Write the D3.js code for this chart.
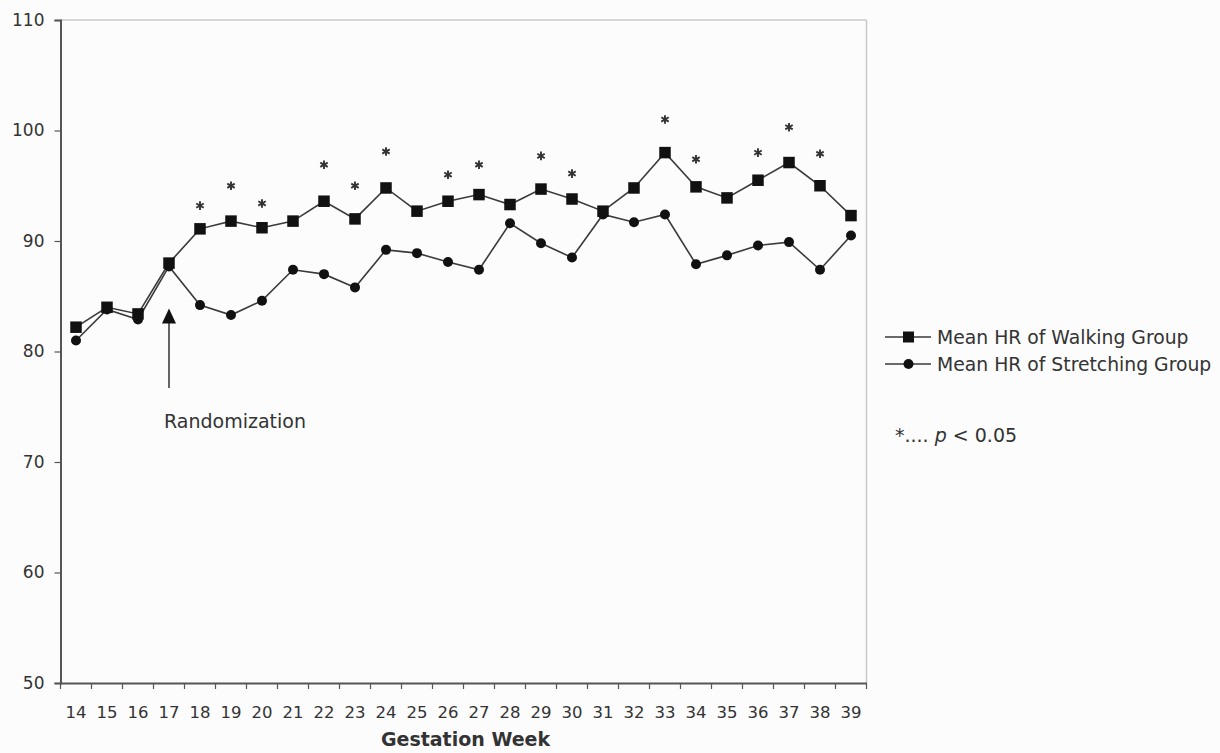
<!DOCTYPE html>
<html><head><meta charset="utf-8">
<script src="https://cdn.jsdelivr.net/npm/d3@7"></script>
<style>
html,body{margin:0;padding:0;background:#fcfcfc;}
svg{display:block;font-family:"DejaVu Sans",Verdana,sans-serif;}
</style></head>
<body>
<svg id="chart" width="1220" height="753"></svg>
<script>
const weeks = [14,15,16,17,18,19,20,21,22,23,24,25,26,27,28,29,30,31,32,33,34,35,36,37,38,39];
const walking = [82.2,84.0,83.4,88.0,91.1,91.8,91.2,91.8,93.6,92.0,94.8,92.7,93.6,94.2,93.3,94.7,93.8,92.7,94.8,98.0,94.9,93.9,95.5,97.1,95.0,92.3];
const stretching = [81.0,83.8,82.9,87.7,84.2,83.3,84.6,87.4,87.0,85.8,89.2,88.9,88.1,87.4,91.6,89.8,88.5,92.4,91.7,92.4,87.9,88.7,89.6,89.9,87.4,90.5];
const sigWeeks = [18,19,20,22,23,24,26,27,29,30,33,34,36,37,38];
const starValues = [93.2,95.0,93.4,96.9,95.0,98.1,96.0,96.9,97.7,96.1,101.0,97.4,98.0,100.3,97.9];
const yTicks = [50,60,70,80,90,100,110];
const seriesNames = ["Mean HR of Walking Group","Mean HR of Stretching Group"];
const annotation = {label:"Randomization", week:17, tip:83.9, tail:76.7, text:73.1};

const svg = d3.select("#chart");
const L = 60.5, R = 866.5, T = 20, B = 683;
const x = d3.scaleBand().domain(weeks).range([L, R]);
const y = d3.scaleLinear().domain([50,110]).range([B, T]);
const cx = w => x(w) + x.bandwidth()/2;

// plot frame (light top/right)
svg.append("line").attr("x1",L).attr("x2",R).attr("y1",T).attr("y2",T).attr("stroke","#c8c8cc").attr("stroke-width",1.5);
svg.append("line").attr("x1",R).attr("x2",R).attr("y1",T).attr("y2",B).attr("stroke","#c8c8cc").attr("stroke-width",1.5);

// y axis
const yAxis = d3.axisLeft(y).tickValues(yTicks).tickSize(6).tickPadding(10).tickFormat(d3.format("d"));
const gy = svg.append("g").attr("transform",`translate(${L},0)`).call(yAxis);
gy.select(".domain").attr("stroke","#555").attr("stroke-width",2);
gy.selectAll(".tick line").attr("stroke","#555").attr("stroke-width",1.2);
gy.selectAll(".tick text").attr("font-size",17).attr("fill","#333").attr("font-family","DejaVu Sans");

// x axis
const xAxis = d3.axisBottom(x).tickSize(0).tickPadding(0);
const gx = svg.append("g").attr("transform",`translate(0,${B})`).call(xAxis);
gx.select(".domain").attr("stroke","#555").attr("stroke-width",2);
gx.selectAll(".tick text").attr("font-size",16.5).attr("fill","#333").attr("font-family","DejaVu Sans").attr("dy",null).attr("y",35);
const bounds = weeks.map(w => x(w)).concat([R]);
svg.append("g").selectAll("line").data(bounds).join("line")
  .attr("x1",d=>d).attr("x2",d=>d).attr("y1",B).attr("y2",B+6)
  .attr("stroke","#555").attr("stroke-width",1.2);

// x title
svg.append("text").attr("x",(L+R)/2+2).attr("y",746).attr("text-anchor","middle")
  .attr("font-size",19).attr("font-weight","bold").attr("fill","#333").text("Gestation Week");

// lines
const line = d3.line().x((d,i)=>cx(weeks[i])).y(d=>y(d));
svg.append("path").datum(stretching).attr("d",line).attr("fill","none").attr("stroke","#3a3a3a").attr("stroke-width",1.6);
svg.append("path").datum(walking).attr("d",line).attr("fill","none").attr("stroke","#3a3a3a").attr("stroke-width",1.6);

// markers
svg.append("g").selectAll("circle").data(stretching).join("circle")
  .attr("cx",(d,i)=>cx(weeks[i])).attr("cy",d=>y(d)).attr("r",5).attr("fill","#111");
const s = 11.5;
svg.append("g").selectAll("rect").data(walking).join("rect")
  .attr("x",(d,i)=>cx(weeks[i])-s/2).attr("y",d=>y(d)-s/2).attr("width",s).attr("height",s).attr("fill","#111");

// significance stars (6-armed asterisks)
const ast = (px,py,r) => {
  let p = "";
  [90,30,150].forEach(a => {
    const dx = r*Math.cos(a*Math.PI/180), dy = r*Math.sin(a*Math.PI/180);
    p += `M${px-dx},${py-dy}L${px+dx},${py+dy}`;
  });
  return p;
};
svg.append("g").selectAll("path").data(sigWeeks).join("path")
  .attr("d",(d,i)=>ast(cx(d), y(starValues[i]), 4.3))
  .attr("stroke","#333").attr("stroke-width",1.9).attr("fill","none");

// annotation arrow
const ax = cx(annotation.week);
svg.append("line").attr("x1",ax).attr("x2",ax).attr("y1",y(annotation.tail)).attr("y2",y(annotation.tip)+12)
  .attr("stroke","#333").attr("stroke-width",1.5);
svg.append("path").attr("d",`M${ax},${y(annotation.tip)} L${ax-7},${y(annotation.tip)+15} L${ax+7},${y(annotation.tip)+15} Z`).attr("fill","#111");
svg.append("text").attr("x",ax-5).attr("y",y(annotation.text)).attr("font-size",19).attr("fill","#333").text(annotation.label);

// legend
const legY = [337, 364];
const leg = svg.append("g").selectAll("g").data(seriesNames).join("g").attr("transform",(d,i)=>`translate(0,${legY[i]})`);
leg.append("line").attr("x1",885).attr("x2",931).attr("y1",0).attr("y2",0).attr("stroke","#3a3a3a").attr("stroke-width",1.6);
leg.filter((d,i)=>i===0).append("rect").attr("x",903).attr("y",-5.5).attr("width",11).attr("height",11).attr("fill","#111");
leg.filter((d,i)=>i===1).append("circle").attr("cx",908.5).attr("cy",0).attr("r",5).attr("fill","#111");
leg.append("text").attr("x",937).attr("y",6.5).attr("font-size",18.8).attr("fill","#333").text(d=>d);

// p note
const pn = svg.append("text").attr("x",895).attr("y",442).attr("font-size",19).attr("fill","#333");
pn.append("tspan").text("*.... ");
pn.append("tspan").attr("font-style","italic").text("p");
pn.append("tspan").text(" < 0.05");
</script>
</body></html>
